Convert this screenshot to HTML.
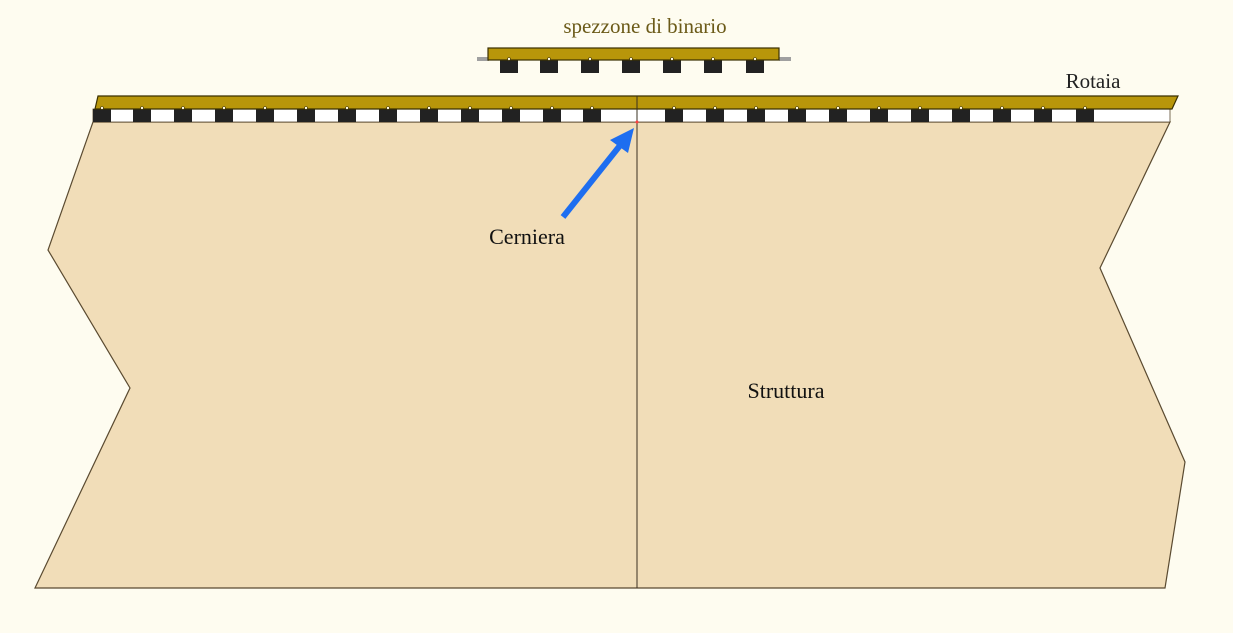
<!DOCTYPE html>
<html><head><meta charset="utf-8"><style>
html,body{margin:0;padding:0;background:#fefcf0;}
svg{display:block;}
text{font-family:"Liberation Serif",serif;}
</style></head><body>
<svg width="1233" height="633" viewBox="0 0 1233 633" xmlns="http://www.w3.org/2000/svg">
<rect width="1233" height="633" fill="#fefcf0"/>
<polygon points="93,122 48,250 130,388 35,588 1165,588 1185,462 1100,268 1170,122" fill="#f1ddb8" stroke="#5a4a30" stroke-width="1.2"/>
<rect x="93" y="109" width="1077" height="13" fill="#ffffff" stroke="#5a4a30" stroke-width="0.8"/>
<g fill="#222">
<rect x="93" y="109" width="18" height="13"/><rect x="133" y="109" width="18" height="13"/><rect x="174" y="109" width="18" height="13"/><rect x="215" y="109" width="18" height="13"/><rect x="256" y="109" width="18" height="13"/><rect x="297" y="109" width="18" height="13"/><rect x="338" y="109" width="18" height="13"/><rect x="379" y="109" width="18" height="13"/><rect x="420" y="109" width="18" height="13"/><rect x="461" y="109" width="18" height="13"/><rect x="502" y="109" width="18" height="13"/><rect x="543" y="109" width="18" height="13"/><rect x="583" y="109" width="18" height="13"/>
<rect x="665" y="109" width="18" height="13"/><rect x="706" y="109" width="18" height="13"/><rect x="747" y="109" width="18" height="13"/><rect x="788" y="109" width="18" height="13"/><rect x="829" y="109" width="18" height="13"/><rect x="870" y="109" width="18" height="13"/><rect x="911" y="109" width="18" height="13"/><rect x="952" y="109" width="18" height="13"/><rect x="993" y="109" width="18" height="13"/><rect x="1034" y="109" width="18" height="13"/><rect x="1076" y="109" width="18" height="13"/>
</g>
<polygon points="98,96 1178,96 1172,109 95,109" fill="#b8960a" stroke="#3a3000" stroke-width="1.2"/>
<g fill="#fff8e0" stroke="#3a3000" stroke-width="0.6">
<circle cx="102" cy="108" r="1.5"/><circle cx="142" cy="108" r="1.5"/><circle cx="183" cy="108" r="1.5"/><circle cx="224" cy="108" r="1.5"/><circle cx="265" cy="108" r="1.5"/><circle cx="306" cy="108" r="1.5"/><circle cx="347" cy="108" r="1.5"/><circle cx="388" cy="108" r="1.5"/><circle cx="429" cy="108" r="1.5"/><circle cx="470" cy="108" r="1.5"/><circle cx="511" cy="108" r="1.5"/><circle cx="552" cy="108" r="1.5"/><circle cx="592" cy="108" r="1.5"/>
<circle cx="674" cy="108" r="1.5"/><circle cx="715" cy="108" r="1.5"/><circle cx="756" cy="108" r="1.5"/><circle cx="797" cy="108" r="1.5"/><circle cx="838" cy="108" r="1.5"/><circle cx="879" cy="108" r="1.5"/><circle cx="920" cy="108" r="1.5"/><circle cx="961" cy="108" r="1.5"/><circle cx="1002" cy="108" r="1.5"/><circle cx="1043" cy="108" r="1.5"/><circle cx="1085" cy="108" r="1.5"/>
</g>
<line x1="637" y1="96" x2="637" y2="588" stroke="#3a3020" stroke-width="1"/>
<circle cx="637" cy="122" r="1.5" fill="#ff4040"/>
<rect x="477" y="57" width="12" height="4" fill="#a0a0a0"/>
<rect x="779" y="57" width="12" height="4" fill="#a0a0a0"/>
<g fill="#222">
<rect x="500" y="60" width="18" height="13"/><rect x="540" y="60" width="18" height="13"/><rect x="581" y="60" width="18" height="13"/><rect x="622" y="60" width="18" height="13"/><rect x="663" y="60" width="18" height="13"/><rect x="704" y="60" width="18" height="13"/><rect x="746" y="60" width="18" height="13"/>
</g>
<rect x="488" y="48" width="291" height="12" fill="#b8960a" stroke="#3a3000" stroke-width="1.2"/>
<g fill="#fff8e0" stroke="#3a3000" stroke-width="0.6">
<circle cx="509" cy="59" r="1.5"/><circle cx="549" cy="59" r="1.5"/><circle cx="590" cy="59" r="1.5"/><circle cx="631" cy="59" r="1.5"/><circle cx="672" cy="59" r="1.5"/><circle cx="713" cy="59" r="1.5"/><circle cx="755" cy="59" r="1.5"/>
</g>
<line x1="563" y1="217" x2="622" y2="143" stroke="#1e6ef0" stroke-width="6"/>
<polygon points="634,128 610,140 628,153" fill="#1e6ef0"/>
<text x="645" y="33" font-size="21" fill="#6b5a18" text-anchor="middle">spezzone di binario</text>
<text x="1093" y="88" font-size="21" fill="#222" text-anchor="middle">Rotaia</text>
<text x="527" y="244" font-size="22" fill="#111" text-anchor="middle">Cerniera</text>
<text x="786" y="398" font-size="22" fill="#111" text-anchor="middle">Struttura</text>
</svg>
</body></html>
